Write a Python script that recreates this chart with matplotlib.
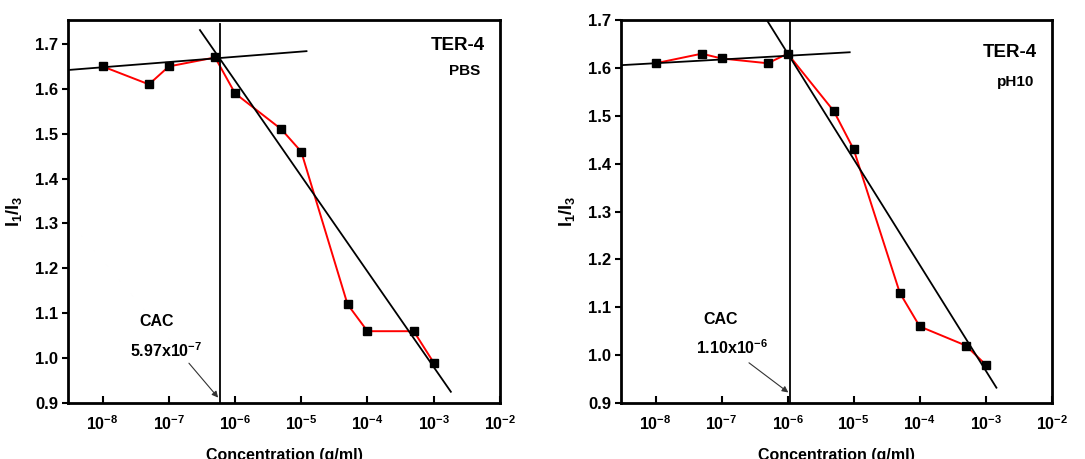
import matplotlib
matplotlib.use("Agg")
import matplotlib.pyplot as plt

plt.rcParams['font.family'] = ['Liberation Sans', 'DejaVu Sans']
plt.rcParams['font.weight'] = 'bold'
plt.rcParams['mathtext.fontset'] = 'custom'
plt.rcParams['mathtext.rm'] = 'Liberation Sans:bold'
plt.rcParams['mathtext.bf'] = 'Liberation Sans:bold'
plt.rcParams['mathtext.it'] = 'Liberation Sans:bold'

# Concentration series (g/ml)
conc = [1e-8, 5e-8, 1e-7, 5e-7, 1e-6, 5e-6, 1e-5, 5e-5, 1e-4, 5e-4, 1e-3]

# I1/I3 ratio of pyrene fluorescence
ratio_pbs = [1.65, 1.61, 1.65, 1.67, 1.59, 1.51, 1.46, 1.12, 1.06, 1.06, 0.99]
ratio_ph10 = [1.61, 1.63, 1.62, 1.61, 1.63, 1.51, 1.43, 1.13, 1.06, 1.02, 0.98]

# Critical aggregation concentrations
cac_pbs = 5.97e-7
cac_ph10 = 1.10e-6
cac_pbs_label = r'$\mathbf{5.97x10^{-7}}$'
cac_ph10_label = r'$\mathbf{1.10x10^{-6}}$'

# Guide lines (concentration, ratio) endpoints
pbs_flat_x = [3e-9, 1.2e-5]
pbs_flat_y = [1.642, 1.684]
pbs_steep_x = [2.95e-7, 1.82e-3]
pbs_steep_y = [1.731, 0.925]
ph10_flat_x = [3e-9, 8.7e-6]
ph10_flat_y = [1.606, 1.633]
ph10_steep_x = [4.9e-7, 1.45e-3]
ph10_steep_y = [1.699, 0.932]

xticks = [1e-8, 1e-7, 1e-6, 1e-5, 1e-4, 1e-3, 1e-2]
xticklabels = [r'$\mathbf{10^{-8}}$', r'$\mathbf{10^{-7}}$', r'$\mathbf{10^{-6}}$',
               r'$\mathbf{10^{-5}}$', r'$\mathbf{10^{-4}}$', r'$\mathbf{10^{-3}}$',
               r'$\mathbf{10^{-2}}$']
yticks = [0.9, 1.0, 1.1, 1.2, 1.3, 1.4, 1.5, 1.6, 1.7]

fig = plt.figure(figsize=(10.85, 4.59), dpi=100)
ax1 = fig.add_axes([0.0627, 0.122, 0.398, 0.834])
ax2 = fig.add_axes([0.5724, 0.122, 0.397, 0.834])


def draw(ax, ratio, cac, flat_x, flat_y, steep_x, steep_y, ytop, vtop,
         sample, title_pos, sample_pos, cac_pos, arrow_start, arrow_end_y):
    ax.set_xscale('log')
    ax.set_xlim(3e-9, 1e-2)
    ax.set_ylim(0.9, ytop)
    ax.plot(conc, ratio, color='red', lw=1.4, zorder=2)
    ax.plot(conc, ratio, ls='none', marker='s', ms=6, color='black', zorder=3)
    ax.plot(flat_x, flat_y, color='black', lw=1.3, zorder=4)
    ax.plot(steep_x, steep_y, color='black', lw=1.3, zorder=4)
    ax.plot([cac, cac], [0.9, vtop], color='black', lw=1.3, zorder=4)
    ax.set_xticks(xticks)
    ax.set_xticklabels(xticklabels)
    ax.minorticks_off()
    ax.set_yticks(yticks)
    ax.set_yticklabels([f'{v:.1f}' for v in yticks])
    ax.tick_params(axis='x', direction='in', length=5, width=1.5,
                   labelsize=11.5, pad=8)
    ax.tick_params(axis='y', direction='out', length=4, width=1.5,
                   labelsize=12, pad=3)
    for s in ax.spines.values():
        s.set_linewidth(2)
    ax.set_xlabel('Concentration (g/ml)', fontsize=11.5, fontweight='bold',
                  labelpad=11)
    ax.set_ylabel(r'$\mathbf{I_1/I_3}$', fontsize=13, labelpad=8)
    ax.text(*title_pos, 'TER-4', transform=ax.transAxes, ha='right',
            va='center', fontsize=13.5, fontweight='bold')
    ax.text(*sample_pos, sample, transform=ax.transAxes, ha='right',
            va='center', fontsize=11, fontweight='bold')
    ax.text(*cac_pos, 'CAC', transform=ax.transAxes, ha='center',
            va='center', fontsize=11.5, fontweight='bold')
    ax.annotate('', xy=(cac * 0.93, arrow_end_y), xycoords='data',
                xytext=arrow_start, textcoords='axes fraction',
                arrowprops=dict(arrowstyle='-|>', color='#333333', lw=0.8,
                                mutation_scale=9, shrinkA=0, shrinkB=0))
    return ax


draw(ax1, ratio_pbs, cac_pbs, pbs_flat_x, pbs_flat_y, pbs_steep_x,
     pbs_steep_y, 1.753, 1.744, 'PBS', (0.965, 0.935), (0.955, 0.867),
     (0.206, 0.214), (0.28, 0.104), 0.912)
draw(ax2, ratio_ph10, cac_ph10, ph10_flat_x, ph10_flat_y, ph10_steep_x,
     ph10_steep_y, 1.7, 1.7, 'pH10', (0.965, 0.916), (0.96, 0.838),
     (0.23, 0.217), (0.297, 0.105), 0.922)

# CAC value labels
ax1.text(0.227, 0.137, cac_pbs_label, transform=ax1.transAxes, ha='center',
         va='center', fontsize=11.5)
ax2.text(0.257, 0.144, cac_ph10_label, transform=ax2.transAxes, ha='center',
         va='center', fontsize=11.5)

fig.savefig('out.png', dpi=100)
